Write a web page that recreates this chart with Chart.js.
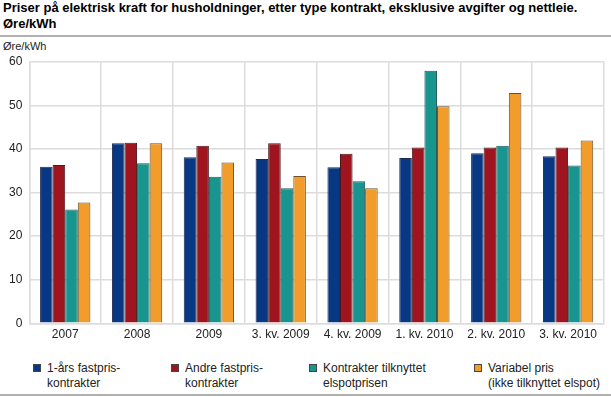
<!DOCTYPE html>
<html>
<head>
<meta charset="utf-8">
<script src="https://cdn.jsdelivr.net/npm/chart.js@4"></script>
<style>
    body { margin: 0; width: 611px; height: 397px; background: #fff; font-family: "Liberation Sans", Arial, sans-serif; position: relative; overflow: hidden; }
    .title { position: absolute; left: 3px; top: 0; font-weight: bold; font-size: 13px; line-height: 16px; color: #000; }
    .rule { position: absolute; left: 0; width: 611px; height: 2px; background: #b0b0b0; }
    .unit { position: absolute; left: 3px; top: 40px; font-size: 11px; color: #222; }
    #wrap { position: absolute; left: 0; top: 40px; width: 611px; height: 306px; }
    .legend-item { position: absolute; top: 361px; font-size: 12px; line-height: 14.5px; color: #222; }
    .legend-item .box { position: absolute; left: 0; top: 3px; width: 8px; height: 8px; box-sizing: border-box; border: 1px solid #444; }
    .legend-item .txt { position: absolute; top: 0; left: 14px; white-space: nowrap; }
</style>
</head>
<body>
<div class="title">Priser på elektrisk kraft for husholdninger, etter type kontrakt, eksklusive avgifter og nettleie.<br>Øre/kWh</div>
<div class="rule" style="top:35px"></div>
<div class="unit">Øre/kWh</div>
<div id="wrap"><canvas id="chart"></canvas></div>
<div id="legend"></div>
<div class="rule" style="top:394px"></div>
<script>
const categories = ['2007', '2008', '2009', '3. kv. 2009', '4. kv. 2009', '1. kv. 2010', '2. kv. 2010', '3. kv. 2010'];
const seriesNames = [
    ['1-års fastpris-', 'kontrakter'],
    ['Andre fastpris-', 'kontrakter'],
    ['Kontrakter tilknyttet', 'elspotprisen'],
    ['Variabel pris', '(ikke tilknyttet elspot)']
];
const ettaarsFastpris = [35.9, 41.3, 38.1, 37.7, 35.8, 37.9, 39.0, 38.3];
const andreFastpris = [36.3, 41.4, 40.7, 41.3, 38.9, 40.3, 40.3, 40.3];
const elspot = [26.1, 36.7, 33.6, 31.0, 32.6, 57.9, 40.7, 36.2];
const variabel = [27.7, 41.3, 36.9, 33.8, 31.0, 49.8, 52.8, 41.9];
const yTicks = [0, 10, 20, 30, 40, 50, 60];

const colors = ['#083784', '#9e1520', '#18958f', '#f29c2c'];
const borders = ['#1c2a55', '#4a1a1c', '#245a57', '#6b5030'];

document.addEventListener('DOMContentLoaded', () => {
    renderChart();
});

function renderChart() {
    const seriesValues = [ettaarsFastpris, andreFastpris, elspot, variabel];
    const datasets = seriesValues.map((vals, i) => ({
        label: seriesNames[i].join(' '),
        data: vals,
        backgroundColor: colors[i],
        borderColor: borders[i],
        borderWidth: 1,
        categoryPercentage: 0.7,
        barPercentage: 1.0
    }));

    new Chart(document.getElementById('chart'), {
        type: 'bar',
        data: { labels: categories, datasets: datasets },
        options: {
            responsive: true,
            maintainAspectRatio: false,
            animation: false,
            layout: { padding: { top: 21.7, right: 7, left: 0, bottom: 0 } },
            plugins: { legend: { display: false }, tooltip: { enabled: false } },
            scales: {
                x: {
                    grid: { color: '#dcdcdc', lineWidth: 1.5, drawTicks: false, offset: true },
                    border: { color: '#dcdcdc', width: 1.5 },
                    ticks: { color: '#222', font: { family: 'Liberation Sans', size: 12 }, padding: 4, maxRotation: 0, autoSkip: false },
                    afterFit: scale => { scale.height = 22.7; }
                },
                y: {
                    min: 0,
                    max: 60,
                    afterBuildTicks: scale => { scale.ticks = yTicks.map(v => ({ value: v })); },
                    grid: { color: '#dcdcdc', lineWidth: 1.5, drawTicks: false },
                    border: { color: '#dcdcdc', width: 1.5 },
                    ticks: { color: '#222', font: { family: 'Liberation Sans', size: 12 }, padding: 7 },
                    afterFit: scale => { scale.width = 29.3; }
                }
            }
        }
    });

    //..html legend with two-line labels
    const legendX = [33, 171, 309, 474];
    const legend = document.getElementById('legend');
    seriesNames.forEach((lines, i) => {
        const item = document.createElement('div');
        item.className = 'legend-item';
        item.style.left = legendX[i] + 'px';
        item.innerHTML = `<span class="box" style="background:${colors[i]}"></span><span class="txt">${lines.join('<br>')}</span>`;
        legend.appendChild(item);
    });
}
</script>
</body>
</html>
